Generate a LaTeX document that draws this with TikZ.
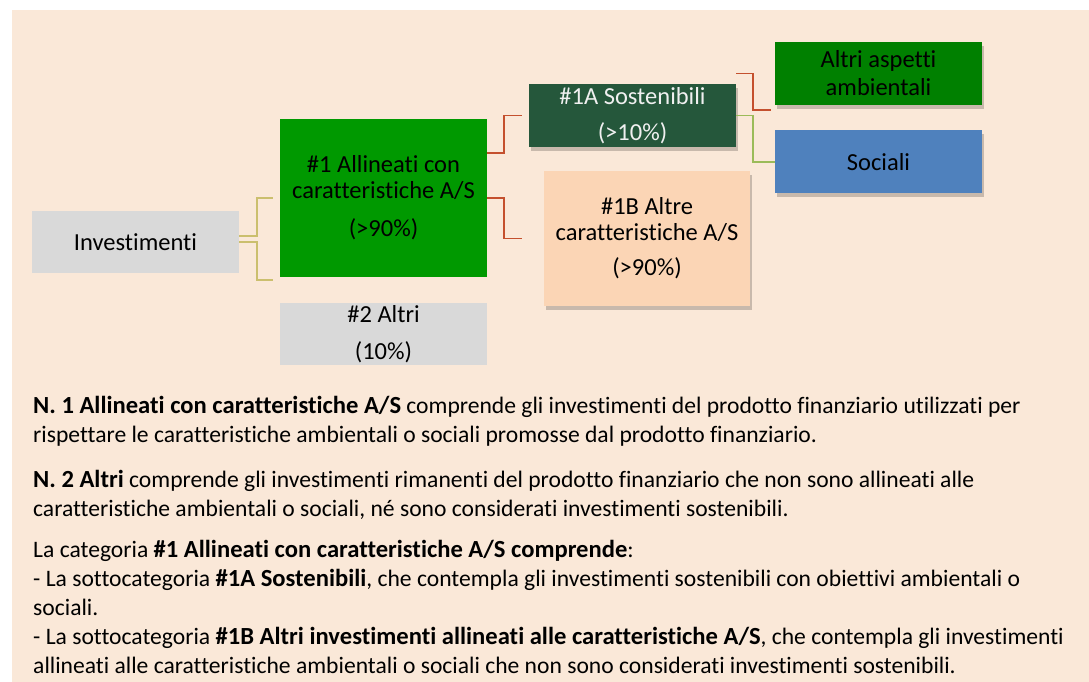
\documentclass[tikz,border=0pt]{standalone}
\usepackage{fontspec}
\setmainfont{Carlito}[Ligatures=NoCommon]
\usepackage{tikz}
\definecolor{bgbeige}{HTML}{FAE8D8}
\definecolor{boxgray}{HTML}{D9D9D9}
\definecolor{alignedgreen}{HTML}{009900}
\definecolor{sustgreen}{HTML}{25573B}
\definecolor{otherpeach}{HTML}{FBD5B5}
\definecolor{envgreen}{HTML}{008000}
\definecolor{socblue}{HTML}{4F81BD}
\definecolor{linkolive}{HTML}{CBBF6E}
\definecolor{linkred}{HTML}{C4502E}
\definecolor{linkgreen}{HTML}{9BBB59}
\usetikzlibrary{positioning,shadows}
\newcommand{\notebf}[1]{{\fontsize{24.6}{29}\selectfont\textbf{#1}}}

\begin{document}
\begin{tikzpicture}[x=1pt,y=-1pt,
    smartbox/.style={rectangle,inner sep=0pt,
        minimum width=207pt,minimum height=63pt,align=center,
        font=\fontsize{24.5}{26}\selectfont},
    shadowed/.style={drop shadow={shadow xshift=2pt,shadow yshift=-4pt,
        opacity=0.2,fill=black}},
    olivelink/.style={draw=linkolive,line width=1.6pt},
    redlink/.style={draw=linkred,line width=1.6pt},
    greenlink/.style={draw=linkgreen,line width=1.6pt},
    bodytext/.style={inner sep=0pt,align=left,anchor=north west,
        font=\fontsize{23.6}{29}\selectfont}]
  \useasboundingbox (0,0) rectangle (1089,682);
  \fill[white] (0,0) rectangle (1089,682);
  \fill[bgbeige] (12,10) rectangle (1089,682);

  % hierarchy boxes
  \node[smartbox,fill=boxgray,minimum height=62pt] (inv) at (135.5,242)
        {Investimenti};
  \node[smartbox,fill=alignedgreen,minimum height=158pt] (al1) at (383.5,198)
        {\#1 Allineati con\\caratteristiche A/S\\[12pt](>90\%)};
  \node[smartbox,fill=boxgray,minimum height=62pt,below=26pt of al1] (alt2)
        {\#2 Altri\\[11pt](10\%)};
  \node[smartbox,shadowed,fill=sustgreen,text=white!94!black] (s1a) at (632.5,115.5)
        {\#1A Sostenibili\\[10pt](>10\%)};
  \node[smartbox,shadowed,fill=otherpeach,minimum width=206pt,
        minimum height=135pt] (a1b) at (647,238.5)
        {\#1B Altre\\caratteristiche A/S\\[9pt](>90\%)};
  \node[smartbox,shadowed,fill=envgreen] (amb) at (878.5,73.5)
        {Altri aspetti\\[2pt]ambientali};
  \node[smartbox,shadowed,fill=socblue,below=25pt of amb] (soc) {Sociali};

  % connectors
  \draw[olivelink] ([yshift=6pt]inv.east) -- ++(18,0) |- ([xshift=-7pt]al1.west);
  \draw[olivelink] (inv.east) -- ++(18,0) |- ([xshift=-7pt,yshift=-3pt]al1.south west);
  \draw[redlink] ([yshift=45pt]al1.east) -- ++(17,0) |- ([xshift=-7pt]s1a.west);
  \draw[redlink] (al1.east) -- ++(17,0) |- ([xshift=-22pt]a1b.west);
  \draw[redlink] (s1a.east |- amb.west) -- ++(17,0)
        |- ([xshift=-4pt,yshift=-5pt]amb.south west);
  \draw[greenlink] (s1a.east) -- ++(17,0) |- (soc.west);

  % notes
  \node[bodytext] (note1) at (33,396)
        {\notebf{N. 1 Allineati con caratteristiche A/S} comprende gli investimenti del prodotto finanziario utilizzati per\\
         rispettare le caratteristiche ambientali o sociali promosse dal prodotto finanziario.};
  \node[bodytext] (note2) at (33,470)
        {\notebf{N. 2 Altri} comprende gli investimenti rimanenti del prodotto finanziario che non sono allineati alle\\
         caratteristiche ambientali o sociali, né sono considerati investimenti sostenibili.};
  \node[bodytext] (note3) at (33,540)
        {La categoria \notebf{\#1 Allineati con caratteristiche A/S comprende}:\\
         - La sottocategoria \notebf{\#1A Sostenibili}, che contempla gli investimenti sostenibili con obiettivi ambientali o\\
         sociali.\\
         - La sottocategoria \notebf{\#1B Altri investimenti allineati alle caratteristiche A/S}, che contempla gli investimenti\\
         allineati alle caratteristiche ambientali o sociali che non sono considerati investimenti sostenibili.};
\end{tikzpicture}
\end{document}
